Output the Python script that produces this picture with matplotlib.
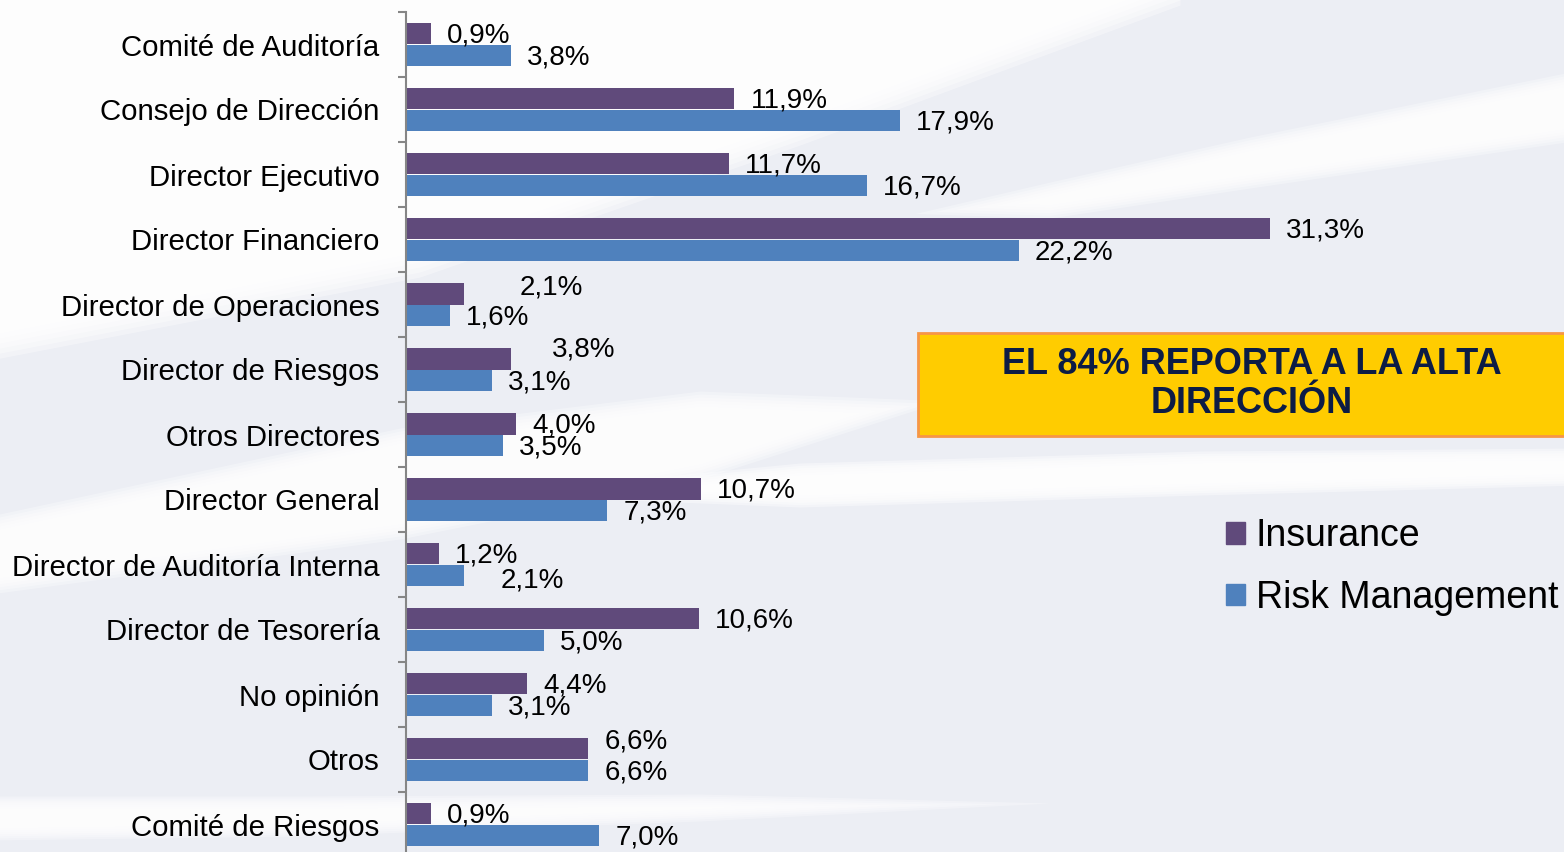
import numpy as np
import matplotlib
matplotlib.use("Agg")
import matplotlib.pyplot as plt
from matplotlib.patches import Patch, Rectangle

plt.rcParams['font.family'] = ['Liberation Sans', 'DejaVu Sans']

categories = ["Comité de Auditoría", "Consejo de Dirección", "Director Ejecutivo",
              "Director Financiero", "Director de Operaciones", "Director de Riesgos",
              "Otros Directores", "Director General", "Director de Auditoría Interna",
              "Director de Tesorería", "No opinión", "Otros", "Comité de Riesgos"]
insurance = [0.9, 11.9, 11.7, 31.3, 2.1, 3.8, 4.0, 10.7, 1.2, 10.6, 4.4, 6.6, 0.9]
risk_mgmt = [3.8, 17.9, 16.7, 22.2, 1.6, 3.1, 3.5, 7.3, 2.1, 5.0, 3.1, 6.6, 7.0]

C_INS = "#604A7B"
C_RISK = "#4F81BD"
BG = "#ECEEF4"

W, H = 1564, 852
fig = plt.figure(figsize=(W / 100, H / 100), dpi=100)
fig.patch.set_facecolor(BG)

# soft white swooshes in the background (pixel coords)
bg = fig.add_axes([0, 0, 1, 1], zorder=-10)
bg.set_xlim(0, W)
bg.set_ylim(H, 0)
bg.axis("off")


def swoosh(xp, top, bot, target=0.95, steps=7, blur=10):
    x = np.linspace(xp[0], xp[-1], 400)
    t = np.interp(x, xp, top)
    b = np.interp(x, xp, bot)
    a = 1 - (1 - target) ** (1 / steps)
    for k in range(steps):
        d = blur * (k / (steps - 1) - 0.5)
        bg.fill_between(x, t + d, b - d, where=(b - d) > (t + d), color="white",
                        alpha=a, lw=0, interpolate=True)


swoosh([-10, 420, 800, 1180], [-60, -60, -60, -60], [345, 262, 130, -10], blur=30)
swoosh([-10, 400, 700, 950], [525, 437, 400, 410], [585, 530, 470, 390], target=0.92, blur=18)
swoosh([900, 1050, 1250, 1580], [225, 190, 145, 78], [205, 210, 180, 132], target=0.92, blur=16)
swoosh([480, 800, 1200, 1580], [501, 470, 458, 455], [487, 500, 488, 478], target=0.97, blur=14)
swoosh([-10, 300, 700, 1050], [802, 802, 800, 809], [834, 830, 815, 797], target=0.9, blur=12)

# main axes
left = 406 / W
ax_h = 845 / H
ax_bottom = (H - 857) / H
ax = fig.add_axes([left, ax_bottom, 1 - left, ax_h])
ax.set_facecolor("none")

y = np.arange(len(categories))
h = 0.338
ax.barh(y - h / 2, insurance, height=h, color=C_INS, label="Insurance")
ax.barh(y + h / 2, risk_mgmt, height=h, color=C_RISK, label="Risk Management")

ax.set_xlim(0, 41.96)
ax.set_ylim(len(categories) - 0.5, -0.5)

# label offsets in pixels (dx, dy) -- a few labels are nudged in the original
px = 0.72
ins_off = {4: (56, -6), 5: (41, -9), 11: (16, -7)}
risk_off = {8: (37, 5)}
for i, (a_, b_) in enumerate(zip(insurance, risk_mgmt)):
    dx, dy = ins_off.get(i, (16, 2))
    ax.annotate(f"{a_:.1f}%".replace(".", ","), xy=(a_, i - h / 2), xytext=(dx * px, -dy * px),
                textcoords="offset points", ha="left", va="center", fontsize=20, color="black")
    dx, dy = risk_off.get(i, (16, 2))
    ax.annotate(f"{b_:.1f}%".replace(".", ","), xy=(b_, i + h / 2), xytext=(dx * px, -dy * px),
                textcoords="offset points", ha="left", va="center", fontsize=20, color="black")

for s in ["top", "right", "bottom"]:
    ax.spines[s].set_visible(False)
ax.spines["left"].set_color("#868686")
ax.spines["left"].set_linewidth(1.5)
ax.set_xticks([])
ax.set_yticks(np.arange(-0.5, len(categories), 1.0))
ax.set_yticklabels([])
ax.tick_params(axis="y", which="major", length=6, width=1.5, color="#868686", direction="out")
ax.set_yticks(y, minor=True)
ax.set_yticklabels(categories, minor=True, fontsize=21.2)
ax.tick_params(axis="y", which="minor", length=0, pad=19)

# yellow callout box
box = Rectangle((918 / W, 1 - 436 / H), (W + 10 - 918) / W, 103 / H, transform=fig.transFigure,
                facecolor="#FFCC00", edgecolor="#F79646", linewidth=2, zorder=5)
fig.patches.append(box)
fig.text(1252 / W, 1 - 384 / H, "EL 84% REPORTA A LA ALTA\nDIRECCIÓN", ha="center", va="center",
         fontsize=26, fontweight="bold", color="#0C1C45", linespacing=1.12, zorder=6)

handles = [Patch(color=C_INS), Patch(color=C_RISK)]
fig.legend(handles, ["Insurance", "Risk Management"], loc="center left",
           bbox_to_anchor=(1207 / W, 1 - 567 / H), frameon=False, fontsize=27,
           handlelength=0.5, handleheight=0.5, handletextpad=0.3, labelspacing=0.68, borderpad=0)

fig.savefig("out.png", dpi=100, facecolor=BG)
